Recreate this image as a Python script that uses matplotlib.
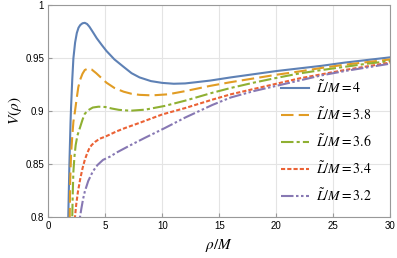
import numpy as np
import matplotlib
matplotlib.use("Agg")
import matplotlib.pyplot as plt

plt.rcParams['font.family'] = ['Liberation Sans', 'DejaVu Sans']
plt.rcParams['mathtext.fontset'] = 'stix'

# values
rho_4 = [1.70, 1.75, 1.85, 1.95, 2.0, 2.1, 2.2, 2.35, 2.5, 2.65, 2.8, 3.0, 3.2, 3.4, 3.6, 3.9,
         4.25, 4.7, 5.1, 5.8, 6.6, 7.3, 8.0, 9.0, 10.0, 11, 12, 13, 14.2, 16, 18, 20, 22, 24, 26, 28, 30]
v_4 = [0.78, 0.80, 0.85, 0.89, 0.905, 0.93, 0.95, 0.965, 0.974, 0.979, 0.9815, 0.9832, 0.9836, 0.9825, 0.980, 0.975,
       0.969, 0.9625, 0.957, 0.949, 0.942, 0.936, 0.932, 0.9285, 0.9268, 0.926, 0.9263, 0.9275, 0.929, 0.932, 0.935, 0.938, 0.9405, 0.943, 0.946, 0.9485, 0.951]

rho_38 = [1.86, 1.88, 1.92, 2.0, 2.1, 2.2, 2.34, 2.5, 2.63, 2.8, 3.0, 3.2, 3.5, 3.8, 4.2, 4.6,
          5.1, 5.8, 6.6, 7.3, 8.0, 9.1, 10.5, 12, 14.2, 16, 18, 20, 22, 24, 26, 28, 30]
v_38 = [0.78, 0.80, 0.835, 0.86, 0.876, 0.89, 0.90, 0.913, 0.9227, 0.930, 0.9355, 0.939, 0.9405, 0.9395, 0.936, 0.932,
        0.927, 0.922, 0.9185, 0.9165, 0.9155, 0.915, 0.916, 0.919, 0.924, 0.9275, 0.931, 0.9345, 0.9376, 0.941, 0.944, 0.9465, 0.949]

rho_36 = [2.06, 2.1, 2.15, 2.2, 2.3, 2.4, 2.55, 2.78, 3.0, 3.2, 3.5, 3.9, 4.4, 5.0, 5.6, 6.2,
          7.2, 8.5, 10.2, 12, 14.4, 16, 18, 20, 22, 24, 26, 28, 30]
v_36 = [0.78, 0.80, 0.825, 0.843, 0.858, 0.868, 0.877, 0.8846, 0.892, 0.8976, 0.901, 0.9035, 0.9043, 0.904, 0.9025, 0.9013,
        0.9005, 0.9015, 0.905, 0.910, 0.9175, 0.922, 0.927, 0.9315, 0.9357, 0.939, 0.942, 0.945, 0.9475]

rho_34 = [2.28, 2.34, 2.45, 2.6, 2.8, 3.0, 3.2, 3.4, 3.6, 3.8, 4.1, 4.5, 5.0, 5.4, 6.0, 6.7,
          8.0, 10.0, 12, 14.4, 16, 18, 20, 22, 24, 26, 28, 30]
v_34 = [0.78, 0.80, 0.812, 0.824, 0.836, 0.846, 0.854, 0.860, 0.865, 0.868, 0.871, 0.874, 0.876, 0.878, 0.881, 0.884,
        0.889, 0.897, 0.903, 0.911, 0.916, 0.921, 0.926, 0.931, 0.935, 0.939, 0.9425, 0.946]

rho_32 = [2.65, 2.78, 2.9, 3.05, 3.2, 3.5, 3.9, 4.3, 4.8, 5.4, 6.0, 6.7, 7.4, 8.5, 10.2, 12,
          14.4, 16, 18, 20, 22, 24, 26, 28, 30]
v_32 = [0.78, 0.80, 0.808, 0.817, 0.824, 0.834, 0.843, 0.849, 0.854, 0.857, 0.861, 0.865, 0.869, 0.875, 0.884, 0.894,
        0.906, 0.913, 0.919, 0.924, 0.929, 0.934, 0.938, 0.9415, 0.945]

labels = ["4", "3.8", "3.6", "3.4", "3.2"]
colors = ["#5E81B5", "#E19C24", "#8FB032", "#EB6235", "#8778B3"]
styles = ["-", (0, (6, 2.5)), (0, (6, 1.5, 1.5, 1.5)), (0, (2, 1)), (0, (6, 1.2, 1.2, 1.2, 1.2, 1.2))]

fig = plt.figure(figsize=(3.97, 2.58), dpi=100)
ax = fig.add_axes([0.1217, 0.159, 0.8615, 0.8197])

series = [(rho_4, v_4), (rho_38, v_38), (rho_36, v_36), (rho_34, v_34), (rho_32, v_32)]
for (r, v), lab, c, ls in zip(series, labels, colors, styles):
    ax.plot(r, v, color=c, linestyle=ls, lw=1.5, solid_joinstyle="round", dash_joinstyle="round",
            label=r"$\tilde{L}/M = %s$" % lab)

ax.set_xlim(0, 30)
ax.set_ylim(0.8, 1.0)
ax.set_xticks([0, 5, 10, 15, 20, 25, 30])
ax.set_yticks([0.8, 0.85, 0.9, 0.95, 1.0])
ax.set_yticklabels(["0.8", "0.85", "0.9", "0.95", "1"])
ax.grid(color="#e4e4e4", lw=0.8)
ax.set_axisbelow(True)
for s in ax.spines.values():
    s.set_color("#999999")
ax.tick_params(direction="in", length=3, color="#999999", labelsize=7, pad=3)

ax.set_xlabel(r"$\rho/M$", fontsize=11, labelpad=4)
ax.set_ylabel(r"$V(\rho)$", fontsize=11, labelpad=1)

leg = ax.legend(loc="upper left", bbox_to_anchor=(0.645, 0.71), frameon=False,
                fontsize=10, handlelength=2.0, labelspacing=0.75, handletextpad=0.5)

fig.savefig("out.png", dpi=100)
